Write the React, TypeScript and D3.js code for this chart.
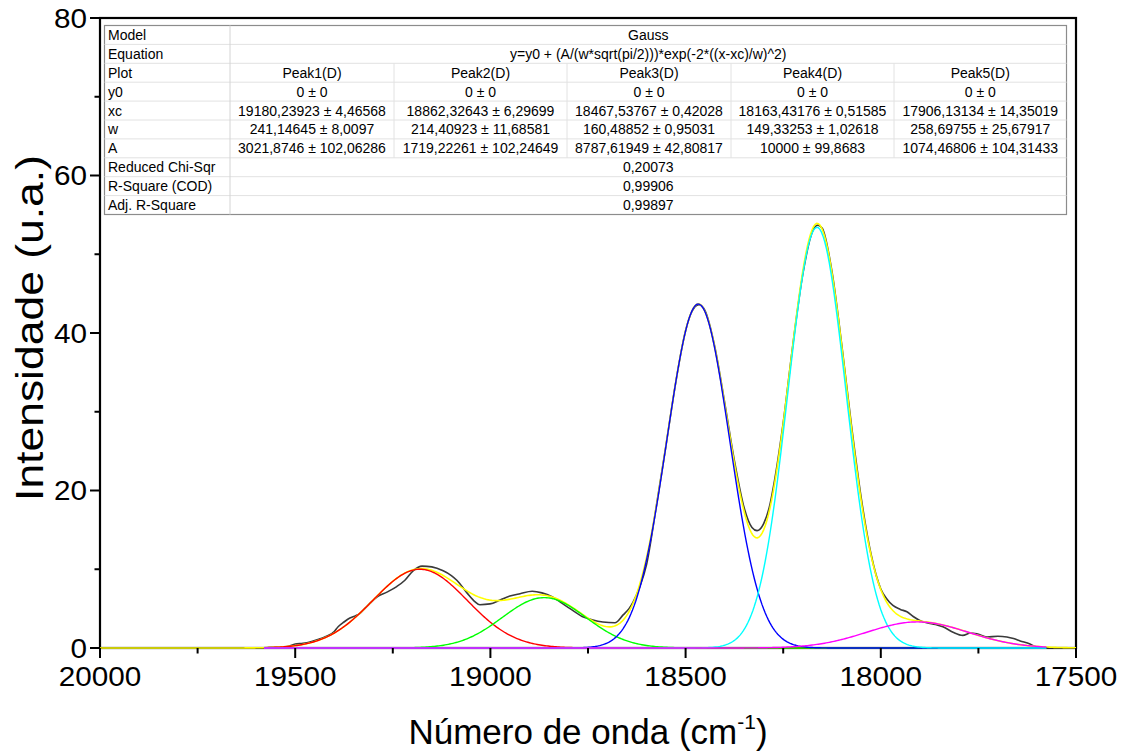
import React from 'react';
import * as d3 from 'd3';

const waveNumber = [
  20000, 19800, 19600, 19550, 19520, 19500, 19480, 19460, 19440, 19420, 19400, 19390, 19375, 19360,
  19345, 19334, 19320, 19308, 19290, 19265, 19240, 19219, 19198, 19175, 19150, 19121, 19100, 19086,
  19060, 19040, 19027, 19001, 18975, 18950, 18924, 18893, 18868, 18842, 18817, 18796, 18765, 18740,
  18712, 18681, 18660, 18645, 18635, 18617, 18600, 18575, 18550, 18525, 18500, 18485, 18466, 18450,
  18425, 18400, 18375, 18350, 18330, 18317, 18300, 18285, 18275, 18250, 18225, 18200, 18175, 18161,
  18150, 18125, 18100, 18075, 18050, 18025, 18000, 17984, 17969, 17950, 17933, 17917, 17900, 17882,
  17860, 17841, 17815, 17790, 17770, 17754, 17728, 17700, 17677, 17660, 17643, 17618, 17605, 17590,
  17550, 17500,
];
const intensity = [
  0, 0, 0, 0.1, 0.2, 0.5, 0.6, 0.8, 1.1, 1.5, 2.1, 2.7, 3.3, 3.8,
  4.1, 4.4, 5.1, 5.7, 6.5, 7.1, 7.8, 8.6, 9.8, 10.4, 10.3, 9.8, 9.2, 8.6,
  7.0, 5.9, 5.5, 5.6, 6.1, 6.6, 6.9, 7.2, 7.0, 6.5, 5.7, 5.0, 4.0, 3.6,
  3.3, 3.2, 4.2, 5.0, 5.8, 7.8, 10.6, 18.0, 25.8, 33.8, 40.3, 42.6, 43.6, 42.8,
  38.2, 31.2, 23.8, 17.8, 15.3, 14.9, 15.8, 18.0, 20.5, 28.6, 38.6, 47.4, 52.9, 53.7,
  53.3, 47.8, 38.5, 28.2, 19.0, 11.9, 7.5, 6.2, 5.4, 4.9, 4.6, 4.0, 3.5, 3.2,
  3.0, 2.7, 2.0, 1.6, 1.9, 1.8, 1.4, 1.5, 1.4, 1.2, 0.9, 0.5, 0.2, 0,
  0, 0,
];

// fit parameters from the table
const peakNames = ['Peak1(D)', 'Peak2(D)', 'Peak3(D)', 'Peak4(D)', 'Peak5(D)'];
const peakColors = ['#ff0000', '#00ff00', '#0000ff', '#00ffff', '#ff00ff'];
const y0Val = [0, 0, 0, 0, 0];
const y0Err = [0, 0, 0, 0, 0];
const xcVal = [19180.23923, 18862.32643, 18467.53767, 18163.43176, 17906.13134];
const xcErr = [4.46568, 6.29699, 0.42028, 0.51585, 14.35019];
const wVal = [241.14645, 214.40923, 160.48852, 149.33253, 258.69755];
const wErr = [8.0097, 11.68581, 0.95031, 1.02618, 25.67917];
const aVal = [3021.8746, 1719.22261, 8787.61949, 10000, 1074.46806];
const aErr = [102.06286, 102.24649, 42.80817, 99.8683, 104.31433];
const chiSqr = 0.20073;
const rSquare = 0.99906;
const adjRSquare = 0.99897;

const xTicks = [20000, 19500, 19000, 18500, 18000, 17500];
const xMinor = [19750, 19250, 18750, 18250, 17750];
const yTicks = [0, 20, 40, 60, 80];
const yMinor = [10, 30, 50, 70];

const W = 1123;
const H = 756;
const M = { left: 100, right: 1076, top: 18, bottom: 648 };
const FONT = '"Liberation Sans", Arial, sans-serif';

const fmt = (v: number) => String(v).replace('.', ',');
const pm = (v: number, e: number) => `${fmt(v)} ± ${fmt(e)}`;

const gauss = (v: number, i: number) =>
  y0Val[i] + (aVal[i] / (wVal[i] * Math.sqrt(Math.PI / 2))) * Math.exp(-2 * ((v - xcVal[i]) / wVal[i]) ** 2);

const Table = () => {
  const left = 104.5;
  const top = 25.5;
  const rowH = 18.9;
  const colX = [left, 230, 394, 567, 731, 894, 1066.5];
  const right = colX[colX.length - 1];
  const nRows = 10;
  const fs = 14;
  const labels = ['Model', 'Equation', 'Plot', 'y0', 'xc', 'w', 'A', 'Reduced Chi-Sqr', 'R-Square (COD)', 'Adj. R-Square'];
  const perPeak: string[][] = [
    peakNames,
    y0Val.map((v, i) => pm(v, y0Err[i])),
    xcVal.map((v, i) => pm(v, xcErr[i])),
    wVal.map((v, i) => pm(v, wErr[i])),
    aVal.map((v, i) => pm(v, aErr[i])),
  ];
  const spanned: [number, string][] = [
    [0, 'Gauss'],
    [1, 'y=y0 + (A/(w*sqrt(pi/2)))*exp(-2*((x-xc)/w)^2)'],
    [7, fmt(chiSqr)],
    [8, fmt(rSquare)],
    [9, fmt(adjRSquare)],
  ];
  const cy = (r: number) => top + rowH * (r + 0.5);
  return (
    <g fontFamily={FONT} fontSize={fs} fill="#000">
      <rect x={left} y={top} width={right - left} height={rowH * nRows} fill="#fff" stroke="#8c8c8c" strokeWidth={1.2} />
      {d3.range(1, nRows).map(r => (
        <line key={r} x1={left} x2={right} y1={top + rowH * r} y2={top + rowH * r} stroke="#e2e2e2" strokeWidth={1} />
      ))}
      <line x1={colX[1]} x2={colX[1]} y1={top} y2={top + rowH * nRows} stroke="#d4d4d4" strokeWidth={1} />
      {colX.slice(2, 6).map(cx => (
        <line key={cx} x1={cx} x2={cx} y1={top + rowH * 2} y2={top + rowH * 7} stroke="#e2e2e2" strokeWidth={1} />
      ))}
      {labels.map((l, r) => (
        <text key={l} x={left + 3.5} y={cy(r)} dy="0.36em">{l}</text>
      ))}
      {spanned.map(([r, t]) => (
        <text key={r} x={(colX[1] + right) / 2} y={cy(r)} dy="0.36em" textAnchor="middle">{t}</text>
      ))}
      {perPeak.map((row, ri) =>
        row.map((t, ci) => (
          <text key={`${ri}-${ci}`} x={(colX[ci + 1] + colX[ci + 2]) / 2} y={cy(ri + 2)} dy="0.36em" textAnchor="middle">{t}</text>
        ))
      )}
    </g>
  );
};

export default function App() {
  const x = d3.scaleLinear().domain([20000, 17500]).range([M.left, M.right]);
  const y = d3.scaleLinear().domain([0, 80]).range([M.bottom, M.top]);

  const pts = waveNumber.map((v, i) => [v, intensity[i]] as [number, number]);
  const line = d3.line<[number, number]>().x(d => x(d[0])).y(d => y(d[1])).curve(d3.curveMonotoneX);

  const grid = d3.range(17500, 20000.01, 4);
  const nonZero = pts.filter(p => p[1] > 0).map(p => p[0]);
  const fitLo = d3.min(nonZero) as number;
  const fitHi = d3.max(nonZero) as number;
  const fitGrid = grid.filter(v => v >= fitLo - 30 && v <= fitHi + 30);
  const cumulative = grid.map(v => [v, d3.sum(xcVal, (_, i) => gauss(v, i))] as [number, number]);
  const fitLine = d3.line<[number, number]>().x(d => x(d[0])).y(d => y(d[1]));

  return (
    <svg width={W} height={H} style={{ position: 'absolute', left: 0, top: 0, background: '#fff' }}>
      <rect width={W} height={H} fill="#fff" />
      <Table />

      {/* frame */}
      <rect x={M.left} y={M.top} width={M.right - M.left} height={M.bottom - M.top} fill="none" stroke="#000" strokeWidth={2.2} />

      <path d={line(pts) || ''} fill="none" stroke="#3a3a3a" strokeWidth={1.6} />
      <path d={fitLine(cumulative) || ''} fill="none" stroke="#ffff00" strokeWidth={1.6} />
      {xcVal.map((_, i) => (
        <path
          key={i}
          d={fitLine(fitGrid.map(v => [v, gauss(v, i)] as [number, number])) || ''}
          fill="none"
          stroke={peakColors[i]}
          strokeWidth={1.4}
        />
      ))}

      <g fontFamily={FONT} fontSize={27} fill="#000">
        {xTicks.map(t => (
          <g key={t}>
            <line x1={x(t)} x2={x(t)} y1={M.bottom} y2={M.bottom + 10} stroke="#000" strokeWidth={2} />
            <text transform={`translate(${x(t)},${M.bottom + 38}) scale(1.1,1)`} textAnchor="middle">{t}</text>
          </g>
        ))}
        {xMinor.map(t => (
          <line key={t} x1={x(t)} x2={x(t)} y1={M.bottom} y2={M.bottom + 5.5} stroke="#000" strokeWidth={2} />
        ))}
        {yTicks.map(t => (
          <g key={t}>
            <line x1={M.left} x2={M.left - 10} y1={y(t)} y2={y(t)} stroke="#000" strokeWidth={2} />
            <text transform={`translate(${M.left - 13},${y(t)}) scale(1.1,1)`} dy="0.36em" textAnchor="end">{t}</text>
          </g>
        ))}
        {yMinor.map(t => (
          <line key={t} x1={M.left} x2={M.left - 5.5} y1={y(t)} y2={y(t)} stroke="#000" strokeWidth={2} />
        ))}
      </g>

      <text
        fontFamily={FONT}
        fontSize={38}
        textAnchor="middle"
        transform={`translate(43,${(M.top + M.bottom) / 2 - 5}) rotate(-90) scale(1.17,1)`}
      >
        Intensidade (u.a.)
      </text>
      <text fontFamily={FONT} fontSize={35} textAnchor="middle" x={(M.left + M.right) / 2} y={744}>
        Número de onda (cm<tspan fontSize={21} dy={-15}>-1</tspan><tspan dy={15}>)</tspan>
      </text>
    </svg>
  );
}
